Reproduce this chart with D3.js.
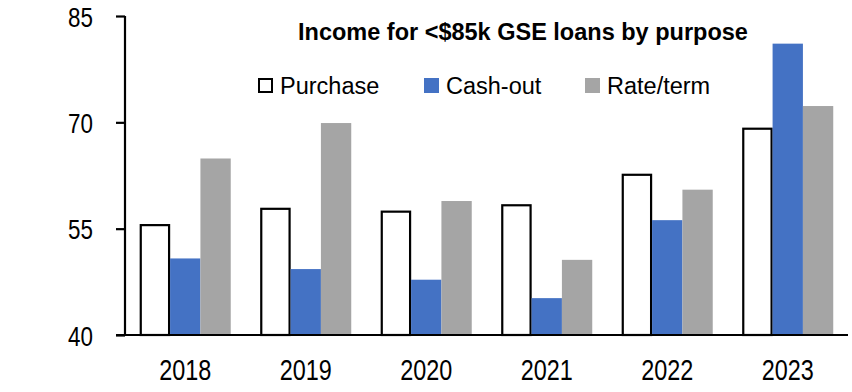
<!DOCTYPE html>
<html>
<head>
<meta charset="utf-8">
<script src="https://cdn.jsdelivr.net/npm/d3@7"></script>
<style>
  body { margin: 0; background: #fff; }
  svg text { font-family: "Liberation Sans", Arial, sans-serif; fill: #000; }
</style>
</head>
<body>
<div id="chart"></div>
<script>
// data
const years = ['2018', '2019', '2020', '2021', '2022', '2023'];
const purchase = [55.5, 57.8, 57.4, 58.3, 62.6, 69.1];
const cashOut = [50.8, 49.3, 47.8, 45.2, 56.2, 81.1];
const rateTerm = [64.9, 69.9, 58.9, 50.6, 60.5, 72.3];
const seriesNames = ['Purchase', 'Cash-out', 'Rate/term'];
const yTicks = [40, 55, 70, 85];

const width = 852, height = 392;
const margin = { top: 16, right: 4, bottom: 57, left: 125 };

const svg = d3.select('#chart').append('svg')
    .attr('width', width)
    .attr('height', height);

const x = d3.scaleBand()
    .domain(years)
    .range([margin.left, width - margin.right])
    .paddingInner(0.245)
    .paddingOuter(0.1225);

const sub = d3.scaleBand()
    .domain(seriesNames)
    .range([0, x.bandwidth()]);

const y = d3.scaleLinear()
    .domain([40, 85])
    .range([height - margin.bottom, margin.top]);

const colors = { 'Purchase': '#ffffff', 'Cash-out': '#4472C4', 'Rate/term': '#A5A5A5' };

const rows = years.map((yr, i) => ({
    year: yr,
    values: [
        { key: 'Purchase', v: purchase[i] },
        { key: 'Cash-out', v: cashOut[i] },
        { key: 'Rate/term', v: rateTerm[i] }
    ]
}));

// bars
const groups = svg.append('g').selectAll('g')
    .data(rows)
    .join('g')
    .attr('transform', d => `translate(${x(d.year)},0)`);

groups.selectAll('rect')
    .data(d => d.values)
    .join('rect')
    .attr('x', d => sub(d.key) + (d.key === 'Purchase' ? 1 : 0))
    .attr('width', d => sub.bandwidth() - (d.key === 'Purchase' ? 2 : 0))
    .attr('y', d => y(d.v))
    .attr('height', d => y(40) - y(d.v))
    .attr('fill', d => colors[d.key])
    .attr('stroke', d => d.key === 'Purchase' ? '#000' : 'none')
    .attr('stroke-width', 2.2);

// y axis
const yAxis = svg.append('g')
    .attr('transform', `translate(${margin.left},0)`)
    .call(d3.axisLeft(y).tickValues(yTicks).tickSize(9).tickPadding(0).tickFormat(d3.format('d')));
yAxis.select('.domain').attr('stroke', '#000').attr('stroke-width', 2.2)
    .attr('d', `M0,${margin.top}V${y(40)}`);
yAxis.selectAll('.tick line').attr('stroke', '#000').attr('stroke-width', 2.2);
yAxis.selectAll('.tick text')
    .attr('x', 0)
    .attr('dy', '0.36em')
    .attr('transform', 'translate(-32,0) scale(0.8,1)')
    .style('font-size', '28px')
    .style('font-family', '"Liberation Sans", Arial, sans-serif');

// x axis
const xAxis = svg.append('g')
    .attr('transform', `translate(0,${y(40)})`)
    .call(d3.axisBottom(x).tickSize(0).tickPadding(0));
xAxis.select('.domain').attr('stroke', '#000').attr('stroke-width', 2.2)
    .attr('d', `M${margin.left - 9},0H${width - margin.right}`);
xAxis.selectAll('.tick text')
    .attr('y', 0)
    .attr('dy', 0)
    .attr('transform', 'translate(0,45) scale(0.78,1)')
    .style('font-size', '30px')
    .style('font-family', '"Liberation Sans", Arial, sans-serif');

// title
svg.append('text')
    .attr('x', 298)
    .attr('y', 40)
    .style('font-size', '23.5px')
    .style('font-weight', 'bold')
    .text('Income for <$85k GSE loans by purpose');

// legend
const legendX = [258, 424, 585];
const legend = svg.append('g').selectAll('g')
    .data(seriesNames)
    .join('g')
    .attr('transform', (d, i) => `translate(${legendX[i]},78)`);

legend.append('rect')
    .attr('x', d => d === 'Purchase' ? 1 : 0)
    .attr('y', d => d === 'Purchase' ? 1 : 0)
    .attr('width', d => d === 'Purchase' ? 13 : 15)
    .attr('height', d => d === 'Purchase' ? 13 : 15)
    .attr('fill', d => colors[d])
    .attr('stroke', d => d === 'Purchase' ? '#000' : 'none')
    .attr('stroke-width', 2);

legend.append('text')
    .attr('x', 22)
    .attr('y', 16)
    .style('font-size', '23.5px')
    .text(d => d);
</script>
</body>
</html>
